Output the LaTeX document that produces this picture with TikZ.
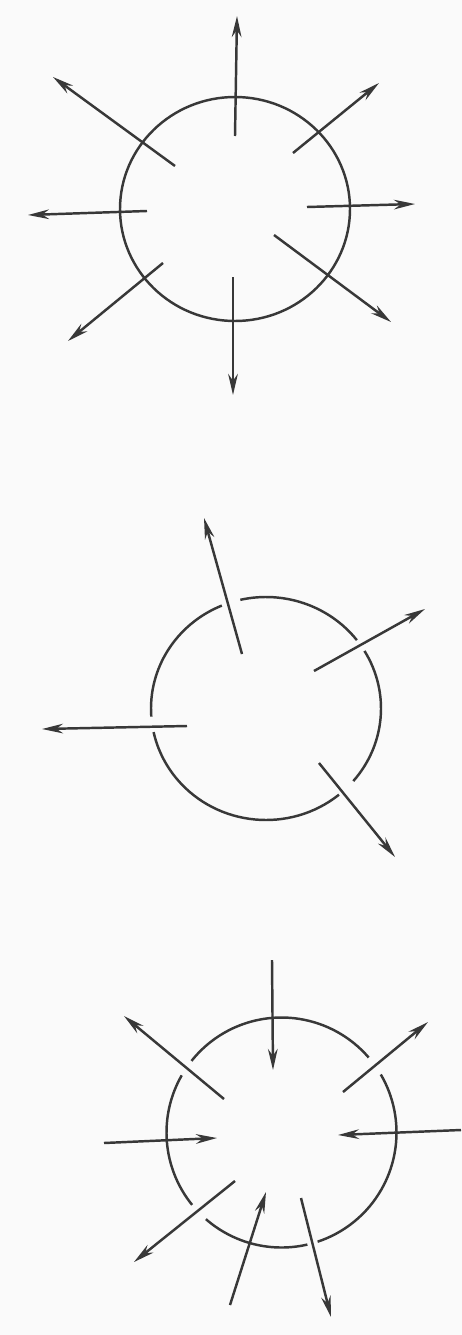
\documentclass[tikz,border=0pt]{standalone}
\usetikzlibrary{arrows.meta}
\begin{document}
\begin{tikzpicture}[x=0.02cm, y=-0.02cm, line width=1.4pt,
    flux/.style={-{Stealth[length=12pt,width=5.5pt]}, black!78},
    rim/.style={black!78}]
    \fill[black!2] (0,0) rectangle (462,1335);
    \useasboundingbox (0,0) rectangle (462,1335);
    \coordinate (c1) at (235,209);
    \coordinate (c2) at (266,708.5);
    \coordinate (c3) at (281.5,1132.5);
    % closed surface, everything flows out
    \draw[rim] (c1) ellipse [x radius=115, y radius=112];
    \foreach \sx/\sy/\tx/\ty in {235/136/237/16, 293/153/379/83, 307/207/415/204,
        274/235/391/322, 233/277/233/395, 163/263/68/341, 147/211/28/215, 175/166/53/77}{
        \draw[flux] (\sx,\sy) -- (\tx,\ty);
    }
    % surface with holes
    \foreach \a/\b in {-102.9/-37.8, -31.1/40.6, 50.6/167.8, 175.8/247.4}{
        \draw[rim] (c2) ++(\a:115 and 111.5) arc[start angle=\a, end angle=\b, x radius=115, y radius=111.5];
    }
    \foreach \sx/\sy/\tx/\ty in {242/654/204/518, 314/671/425/609, 187/726/42/729, 319/763/395/857}{
        \draw[flux] (\sx,\sy) -- (\tx,\ty);
    }
    % in and out
    \foreach \a/\b in {-141.5/-40.7, -30.3/71.7, 77/131.1, 141/209.8}{
        \draw[rim] (c3) ++(\a:115) arc[start angle=\a, end angle=\b, radius=115];
    }
    \foreach \sx/\sy/\tx/\ty in {272/960/273/1070, 343/1092/428/1022, 461/1130/338/1135,
        301/1198/331/1317, 230/1305/266/1192, 235/1181/134/1262, 104/1143/217/1138, 224/1099/124/1016}{
        \draw[flux] (\sx,\sy) -- (\tx,\ty);
    }
\end{tikzpicture}
\end{document}
